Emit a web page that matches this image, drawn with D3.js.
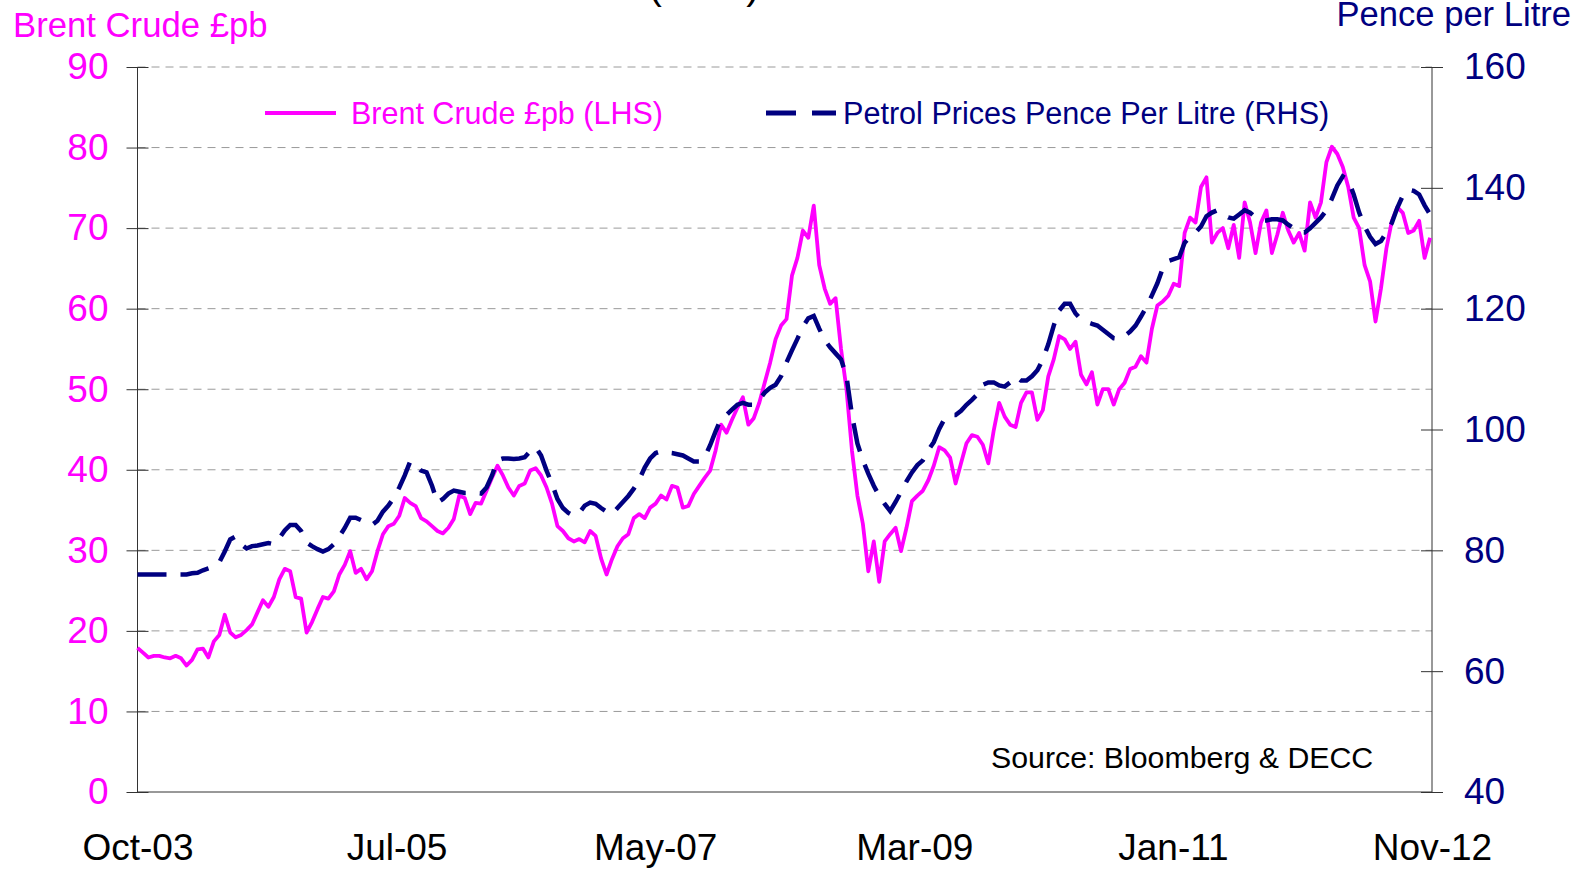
<!DOCTYPE html>
<html>
<head>
<meta charset="utf-8">
<title>Brent Crude vs Petrol Prices</title>
<style>
    body { margin: 0; background: #fff; }
    text { font-family: "Liberation Sans", Arial, sans-serif; }
</style>
</head>
<body>
<script src="https://cdn.jsdelivr.net/npm/d3@7"></script>
<script>
    // fortnightly observations starting 3 Oct 2003
    var startDate = "2003-10-03";
    var stepDays = 14;

    var brent = [17.9,17.3,16.7,16.9,16.9,16.7,16.6,16.9,16.6,15.7,
        16.4,17.7,17.8,16.7,18.7,19.5,22.0,19.8,19.2,19.5,
        20.1,20.8,22.3,23.8,23.0,24.2,26.4,27.7,27.4,24.2,
        24.0,19.8,21.1,22.7,24.2,24.0,24.9,27.0,28.2,29.9,
        27.2,27.7,26.4,27.4,29.9,32.0,33.0,33.3,34.3,36.5,
        35.9,35.5,34.0,33.6,33.0,32.4,32.1,32.8,33.9,36.8,
        36.5,34.5,35.9,35.8,37.4,39.0,40.5,39.3,37.8,36.8,
        38.0,38.3,39.9,40.2,39.3,37.8,35.8,33.0,32.4,31.5,
        31.1,31.4,31.0,32.4,31.8,29.0,27.0,28.9,30.5,31.5,
        32.0,34.0,34.5,34.0,35.3,35.8,36.8,36.3,38.0,37.8,
        35.3,35.5,37.0,38.0,39.0,39.9,42.4,45.6,44.6,46.2,
        47.7,49.0,45.6,46.4,48.3,50.8,53.3,56.2,57.9,58.7,
        64.1,66.3,69.7,68.8,72.8,65.4,62.5,60.6,61.3,55.0,
        50.0,42.4,36.8,33.3,27.4,31.1,26.1,31.1,32.0,32.8,
        29.9,32.8,36.1,36.8,37.4,38.7,40.5,42.8,42.4,41.5,
        38.3,40.8,43.3,44.3,44.1,43.1,40.8,44.9,48.3,46.6,
        45.6,45.3,48.3,49.6,49.6,46.2,47.4,51.6,53.7,56.6,
        56.2,55.0,55.9,51.8,50.6,52.1,48.1,50.0,50.0,48.1,
        50.0,50.8,52.5,52.8,54.1,53.3,57.5,60.4,60.9,61.6,
        63.1,62.8,69.4,71.3,70.7,75.1,76.3,68.2,69.4,70.0,
        67.5,70.4,66.3,73.2,70.7,66.9,70.7,72.2,66.9,69.2,
        71.9,69.7,68.2,69.4,67.2,73.2,71.3,73.2,78.2,80.1,
        79.2,77.6,75.1,71.3,70.0,65.4,63.4,58.4,62.5,67.5,
        70.9,72.6,71.9,69.4,69.7,70.9,66.3,68.8];

    var petrol = [76.0,76.0,76.0,76.0,76.0,76.0,76.0,76.0,76.0,76.0,
        76.2,76.3,76.7,77.0,77.3,78.0,79.8,81.8,82.3,81.0,
        80.3,80.7,80.8,81.0,81.2,81.0,82.0,83.3,84.2,84.2,
        83.2,81.3,80.7,80.2,79.8,80.2,81.0,82.3,83.7,85.4,
        85.4,85.0,84.7,84.2,84.9,86.4,87.4,88.7,90.4,92.4,
        94.7,94.1,93.2,92.9,90.7,87.9,88.5,89.4,89.9,89.7,
        89.5,89.5,89.5,89.4,90.4,92.4,94.9,95.2,95.2,95.1,
        95.2,95.4,96.4,97.1,95.7,93.2,91.0,88.5,87.0,86.2,
        85.7,86.2,87.4,87.9,87.7,87.0,86.4,86.0,87.0,88.0,
        89.0,90.2,91.7,93.7,95.2,96.1,96.4,96.2,96.1,95.9,
        95.7,95.2,94.7,94.7,95.4,97.4,99.7,101.8,102.4,103.3,
        104.1,104.4,104.1,104.1,104.9,106.1,106.9,107.4,108.8,111.1,
        113.1,115.0,117.0,118.4,118.8,116.7,114.8,113.6,112.6,111.6,
        108.8,102.4,97.7,94.9,92.7,90.7,89.0,87.7,86.5,88.0,
        89.7,91.4,92.9,94.1,94.9,96.6,97.9,100.1,101.8,102.4,
        102.4,103.1,104.1,104.9,105.8,107.4,107.8,107.8,107.3,107.1,
        107.8,108.8,108.1,108.1,108.8,109.8,111.6,114.1,117.2,119.7,
        120.8,120.8,119.2,118.2,117.8,117.5,117.2,116.5,115.8,115.1,
        115.0,115.5,116.2,117.2,118.7,120.3,122.2,124.2,126.7,127.9,
        128.2,128.5,130.9,131.9,132.6,133.6,135.3,135.9,136.3,135.6,
        135.1,134.9,135.6,136.3,135.9,135.1,134.6,134.6,134.8,134.8,
        134.6,133.9,133.3,132.6,132.6,133.3,134.2,135.1,136.3,138.2,
        140.4,141.9,141.3,138.9,135.9,133.6,131.9,130.7,131.2,132.6,
        134.2,136.7,138.7,139.7,139.5,138.9,137.1,135.6];

    var xTicks = ["2003-10-03","2005-07-29","2007-05-24","2009-03-19","2011-01-12","2012-11-07"];
    var leftTicks = [0,10,20,30,40,50,60,70,80,90];
    var rightTicks = [40,60,80,100,120,140,160];

    var W = 1586, H = 871;
    var pLeft = 137.5, pRight = 1432, pTop = 67, pBottom = 792;
    var pink = "#ff00ff", navy = "#000080";

    var parse = d3.utcParse("%Y-%m-%d");
    var t0 = parse(startDate);
    var dates = brent.map(function(d,i){ return d3.utcDay.offset(t0, i*stepDays); });

    var x = d3.scaleUtc()
        .domain([t0, parse(xTicks[xTicks.length-1])])
        .range([pLeft, pRight]);
    var yL = d3.scaleLinear().domain([0,90]).range([pBottom, pTop]);
    var yR = d3.scaleLinear().domain([40,160]).range([pBottom, pTop]);

    var svg = d3.select("body").append("svg")
        .attr("width", W)
        .attr("height", H);

    // cut-off title at the very top
    svg.append("text")
        .attr("x", 704).attr("y", -1)
        .attr("text-anchor", "middle")
        .attr("font-size", 40)
        .attr("fill", "#000")
        .text("(GBP)");

    // grid
    svg.selectAll(".grid")
        .data(leftTicks.filter(function(d){ return d > 0; }))
        .enter().append("line")
        .attr("x1", pLeft).attr("x2", pRight)
        .attr("y1", function(d){ return yL(d); })
        .attr("y2", function(d){ return yL(d); })
        .attr("stroke", "#9a9a9a")
        .attr("stroke-width", 1)
        .attr("stroke-dasharray", "8,6");

    // left axis
    var gL = svg.append("g")
        .attr("transform", "translate(" + pLeft + ",0)")
        .call(d3.axisLeft(yL).tickValues(leftTicks).tickSize(11).tickPadding(18));
    gL.selectAll(".tick line").attr("x2", 11).attr("x1", -11).attr("stroke", "#333");
    gL.select(".domain").attr("stroke", "#333").attr("d", "M0," + pTop + "V" + pBottom);
    gL.selectAll(".tick text")
        .attr("font-size", 37)
        .attr("font-family", "Liberation Sans, Arial, sans-serif")
        .attr("fill", pink);

    // right axis
    var gR = svg.append("g")
        .attr("transform", "translate(" + pRight + ",0)")
        .call(d3.axisRight(yR).tickValues(rightTicks).tickSize(11).tickPadding(21));
    gR.selectAll(".tick line").attr("x1", -11).attr("x2", 11).attr("stroke", "#333");
    gR.select(".domain").attr("stroke", "#333").attr("d", "M0," + pTop + "V" + pBottom);
    gR.selectAll(".tick text")
        .attr("font-size", 37)
        .attr("font-family", "Liberation Sans, Arial, sans-serif")
        .attr("fill", navy);

    // bottom axis
    var gB = svg.append("g")
        .attr("transform", "translate(0," + pBottom + ")")
        .call(d3.axisBottom(x)
            .tickValues(xTicks.map(parse))
            .tickSize(0).tickPadding(42)
            .tickFormat(d3.utcFormat("%b-%y")));
    gB.select(".domain").attr("stroke", "#333").attr("d", "M" + pLeft + ",0H" + pRight);
    gB.selectAll(".tick text")
        .attr("font-size", 37)
        .attr("font-family", "Liberation Sans, Arial, sans-serif")
        .attr("fill", "#000");

    // axis titles
    svg.append("text")
        .attr("x", 13).attr("y", 37)
        .attr("font-size", 34.7)
        .attr("fill", pink)
        .text("Brent Crude £pb");
    svg.append("text")
        .attr("x", 1571).attr("y", 26)
        .attr("text-anchor", "end")
        .attr("font-size", 34.6)
        .attr("fill", navy)
        .text("Pence per Litre");

    // lines
    var brentLine = d3.line()
        .x(function(d,i){ return x(dates[i]); })
        .y(function(d){ return yL(d); });
    var petrolLine = d3.line()
        .x(function(d,i){ return x(dates[i]); })
        .y(function(d){ return yR(d); });

    svg.append("path")
        .datum(brent)
        .attr("d", brentLine)
        .attr("fill", "none")
        .attr("stroke", pink)
        .attr("stroke-width", 3.8)
        .attr("stroke-linejoin", "round");

    svg.append("path")
        .datum(petrol)
        .attr("d", petrolLine)
        .attr("fill", "none")
        .attr("stroke", navy)
        .attr("stroke-width", 4.5)
        .attr("stroke-dasharray", "29,14");

    // legend
    svg.append("line")
        .attr("x1", 265).attr("x2", 336)
        .attr("y1", 113).attr("y2", 113)
        .attr("stroke", pink).attr("stroke-width", 4);
    svg.append("text")
        .attr("x", 351).attr("y", 124)
        .attr("font-size", 30.5)
        .attr("fill", pink)
        .text("Brent Crude £pb (LHS)");
    svg.append("line")
        .attr("x1", 766).attr("x2", 836)
        .attr("y1", 113).attr("y2", 113)
        .attr("stroke", navy).attr("stroke-width", 5)
        .attr("stroke-dasharray", "30,16");
    svg.append("text")
        .attr("x", 843).attr("y", 124)
        .attr("font-size", 30.6)
        .attr("fill", navy)
        .text("Petrol Prices Pence Per Litre (RHS)");

    // source note
    svg.append("text")
        .attr("x", 991).attr("y", 768)
        .attr("font-size", 30.3)
        .attr("fill", "#000")
        .text("Source: Bloomberg & DECC");
</script>
</body>
</html>
